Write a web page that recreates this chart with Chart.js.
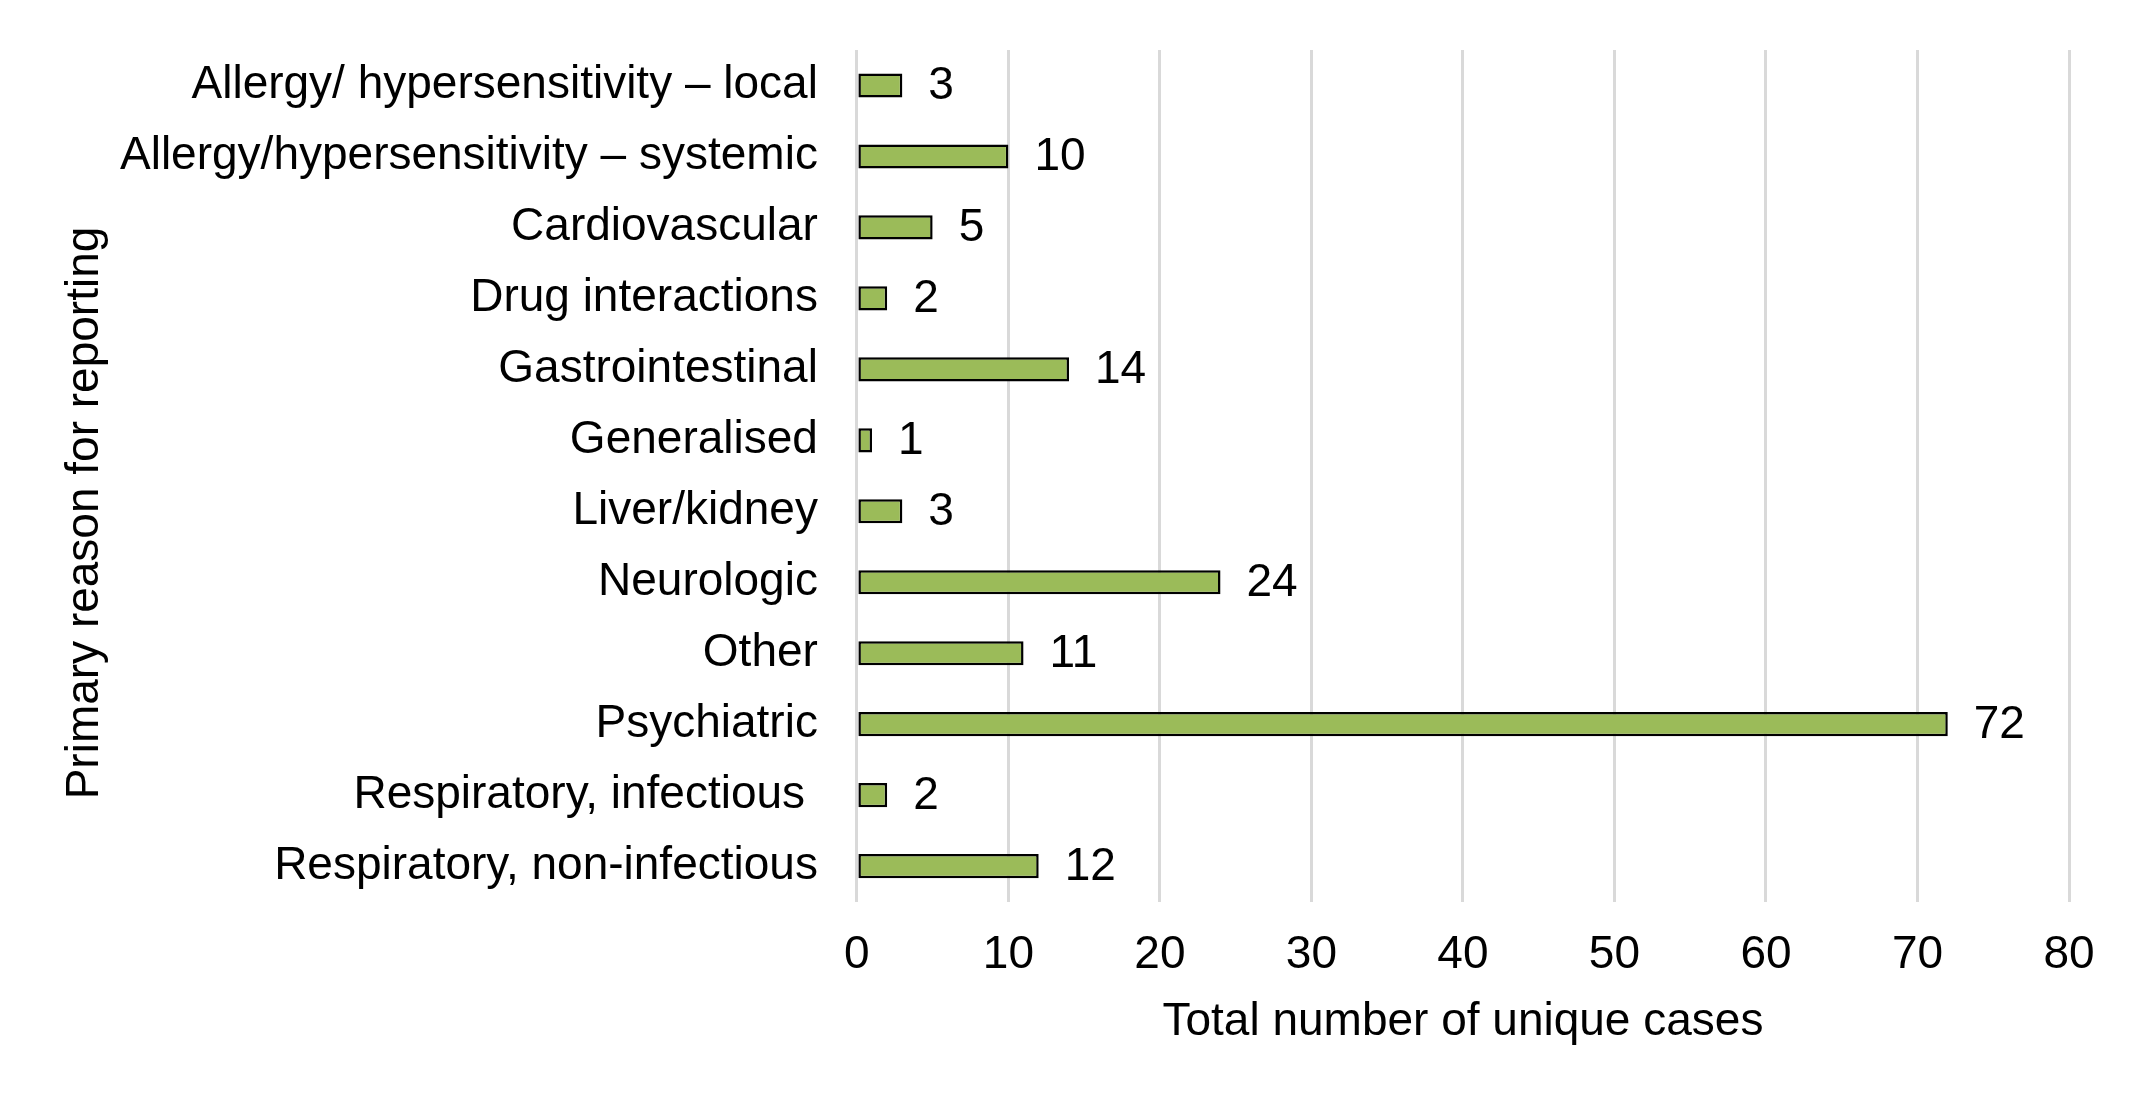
<!DOCTYPE html>
<html>
<head>
<meta charset="utf-8">
<script src="https://cdn.jsdelivr.net/npm/chart.js@4"></script>
<style>
  html, body { margin: 0; padding: 0; background: #fff; }
  #wrap { width: 2144px; height: 1104px; }
</style>
</head>
<body>
<div id="wrap"><canvas id="reasonChart"></canvas></div>
<script>
  const categories = [
    'Allergy/ hypersensitivity – local',
    'Allergy/hypersensitivity – systemic',
    'Cardiovascular',
    'Drug interactions',
    'Gastrointestinal',
    'Generalised',
    'Liver/kidney',
    'Neurologic',
    'Other',
    'Psychiatric',
    'Respiratory, infectious ',
    'Respiratory, non-infectious'
  ];
  const caseCounts = [3, 10, 5, 2, 14, 1, 3, 24, 11, 72, 2, 12];
  const xTicks = [0, 10, 20, 30, 40, 50, 60, 70, 80];
  const yTitle = 'Primary reason for reporting';
  const xTitle = 'Total number of unique cases';

  const fontFamily = '"Liberation Sans", Arial, sans-serif';

  // numbers at the end of each bar
  const valueLabels = {
    id: 'valueLabels',
    afterDatasetsDraw(chart) {
      const ctx = chart.ctx;
      const meta = chart.getDatasetMeta(0);
      ctx.save();
      ctx.font = '46px ' + fontFamily;
      ctx.fillStyle = '#000';
      ctx.textAlign = 'left';
      ctx.textBaseline = 'middle';
      meta.data.forEach((bar, i) => {
        ctx.fillText(String(caseCounts[i]), bar.x + 26, bar.y + 1);
      });
      ctx.restore();
    }
  };

  // y axis title, sits a bit below the middle like in the original
  const sideTitle = {
    id: 'sideTitle',
    afterDraw(chart) {
      const ctx = chart.ctx;
      ctx.save();
      ctx.font = '46px ' + fontFamily;
      ctx.fillStyle = '#000';
      ctx.textAlign = 'center';
      ctx.textBaseline = 'middle';
      ctx.translate(85, 513);
      ctx.rotate(-Math.PI / 2);
      ctx.fillText(yTitle, 0, 0);
      ctx.restore();
    }
  };

  const ctx = document.getElementById('reasonChart').getContext('2d');
  const reasonChart = new Chart(ctx, {
    type: 'bar',
    data: {
      labels: categories,
      datasets: [{
        data: caseCounts,
        backgroundColor: '#9bbb59',
        borderColor: '#000',
        borderWidth: 2.5,
        borderSkipped: false,
        categoryPercentage: 1,
        barPercentage: 0.34
      }]
    },
    options: {
      indexAxis: 'y',
      responsive: true,
      maintainAspectRatio: false,
      animation: false,
      devicePixelRatio: 1,
      layout: { padding: { top: 50, right: 75, bottom: 54, left: 81 } },
      plugins: {
        legend: { display: false },
        tooltip: { enabled: false }
      },
      scales: {
        x: {
          min: 0,
          max: 80,
          afterBuildTicks: (axis) => { axis.ticks = xTicks.map(v => ({ value: v })); },
          grid: { color: '#d9d9d9', lineWidth: 3, drawTicks: false },
          border: { display: false },
          ticks: { color: '#000', font: { size: 46, family: fontFamily }, padding: 26 },
          title: {
            display: true,
            text: xTitle,
            color: '#000',
            font: { size: 46, family: fontFamily },
            padding: { top: -14, bottom: 0 }
          }
        },
        y: {
          afterFit: (scale) => { scale.paddingTop = 0; scale.paddingBottom = 0; },
          grid: { display: false, drawTicks: false },
          border: { display: false },
          ticks: { color: '#000', font: { size: 46, family: fontFamily }, padding: 39, autoSkip: false }
        }
      }
    },
    plugins: [valueLabels, sideTitle]
  });
</script>
</body>
</html>
